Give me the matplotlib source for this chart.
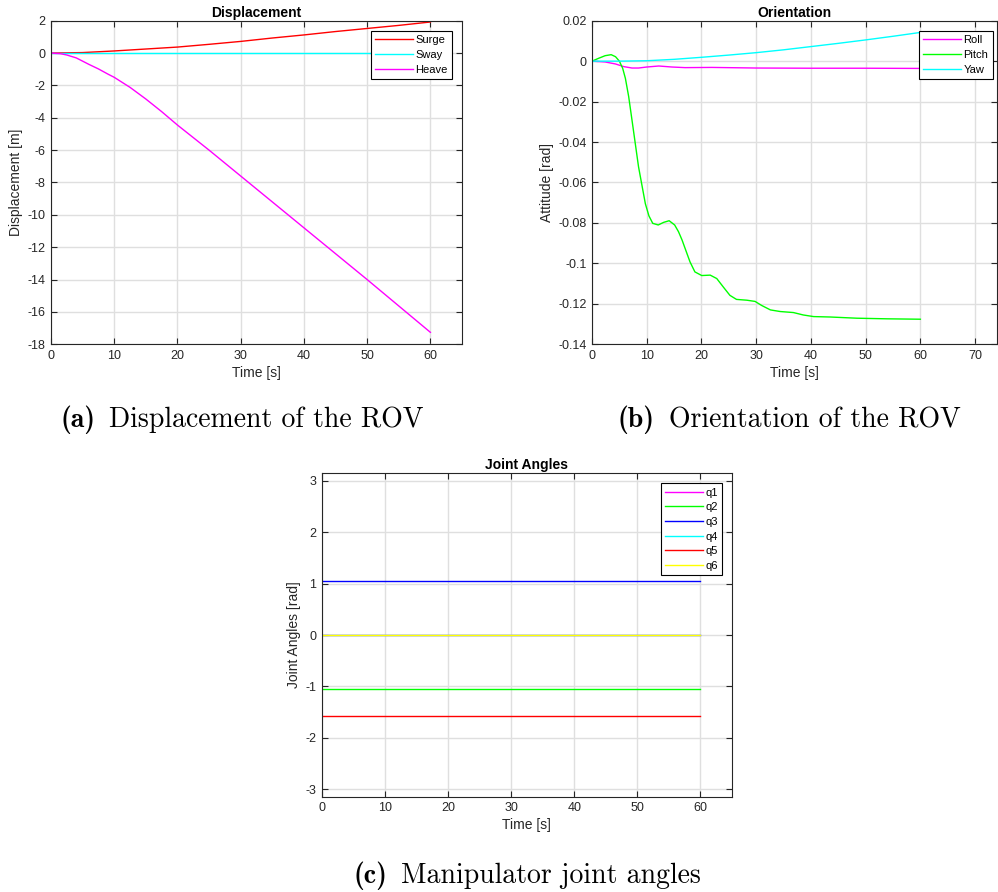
#!/usr/bin/env python3
"""
ROV simulation results: displacement, orientation and manipulator joint angles.
"""

import numpy as np
import matplotlib.pyplot as plt
from matplotlib.ticker import FormatStrFormatter

# --- Displacement of the ROV [m] ---
t_surge = [0, 5, 10, 15, 20, 25, 30, 35, 40, 45, 50, 55, 60]
surge = [0, 0.03, 0.13, 0.25, 0.37, 0.54, 0.72, 0.93, 1.12, 1.33, 1.52, 1.71, 1.92]
t_sway = [0, 60]
sway = [0, 0]
t_heave = [0, 1.5, 2.5, 4, 5, 6, 7.5, 9, 10, 12.5, 15, 17.5, 20, 25, 30, 35,
           40, 45, 50, 55, 60]
heave = [0, -0.04, -0.12, -0.3, -0.5, -0.7, -0.98, -1.3, -1.5, -2.12, -2.84,
         -3.62, -4.45, -6.0, -7.6, -9.2, -10.8, -12.4, -14.0, -15.63, -17.26]

# --- Orientation of the ROV [rad] ---
t_roll = [0, 2.4, 4.3, 5.8, 7.3, 8.5, 10, 12.2, 14.6, 17, 21.9, 30, 40, 50, 60]
roll = [0, -0.0004, -0.0014, -0.0027, -0.0034, -0.0034, -0.0029, -0.0024,
        -0.0029, -0.0032, -0.0031, -0.0034, -0.0035, -0.0035, -0.0036]
t_pitch = [0, 1.2, 2.4, 3.5, 4.3, 5.0, 5.6, 6.1, 6.7, 7.3, 7.9, 8.5, 9.1,
           9.75, 10.4, 11.1, 12.1, 13.1, 14.1, 15.1, 15.8, 16.45, 17.2, 17.9,
           18.8, 20.05, 21.6, 22.8, 24.0, 25.2, 26.4, 28.3, 29.8, 31.0, 32.6,
           34.4, 36.8, 38.6, 40.5, 43.5, 48.4, 53.9, 60]
pitch = [0, 0.0014, 0.0027, 0.0032, 0.0022, 0.0, -0.0035, -0.0085, -0.0175,
         -0.029, -0.0406, -0.0522, -0.061, -0.0705, -0.0765, -0.0802, -0.081,
         -0.0797, -0.0789, -0.081, -0.0843, -0.0884, -0.094, -0.0992, -0.1042,
         -0.106, -0.1058, -0.1075, -0.1117, -0.1158, -0.1178, -0.1182, -0.1188,
         -0.1208, -0.123, -0.1238, -0.1243, -0.1255, -0.1263, -0.1265, -0.1271,
         -0.1274, -0.1276]
t_yaw = [0, 5, 10, 15, 20, 25, 30, 35, 40, 45, 50, 55, 60]
yaw = [0, 0, 0.0002, 0.0009, 0.0019, 0.003, 0.0042, 0.0056, 0.0072, 0.0088,
       0.0105, 0.0123, 0.0142]

# --- Manipulator joint angles [rad] ---
t_joint = [0, 60]
joint_names = ["q1", "q2", "q3", "q4", "q5", "q6"]
joint_values = [0.0, -1.047, 1.047, 0.0, -1.571, 0.0]
joint_colors = ["#ff00ff", "#00ff00", "#0000ff", "#00ffff", "#ff0000", "#ffff00"]

# sub-figure captions
captions = [("(a)", "Displacement of the ROV"),
            ("(b)", "Orientation of the ROV"),
            ("(c)", "Manipulator joint angles")]

plt.rcParams['font.family'] = ['Liberation Sans', 'DejaVu Sans']
plt.rcParams['axes.unicode_minus'] = False

W, H = 998, 892
DARK = "#262626"
GRID = "#dfdfdf"


def px_axes(fig, left, top, right, bottom):
    """Add axes from pixel coordinates (top-left origin)."""
    return fig.add_axes([left / W, 1 - bottom / H, (right - left) / W, (bottom - top) / H])


def style_axes(ax, title, ylabel):
    ax.set_title(title, fontsize=10, fontweight='bold', pad=3)
    ax.set_xlabel("Time [s]", fontsize=10, color=DARK, labelpad=3)
    ax.set_ylabel(ylabel, fontsize=10, color=DARK, labelpad=3)
    ax.grid(True, color=GRID, linewidth=1.0)
    ax.set_axisbelow(True)
    ax.tick_params(direction='in', top=True, right=True, length=4,
                   width=0.8, colors=DARK, labelsize=9, pad=4)
    for s in ax.spines.values():
        s.set_color(DARK)
        s.set_linewidth(0.8)


def add_legend(ax, anchor):
    leg = ax.legend(loc='upper right', bbox_to_anchor=anchor, fontsize=8,
                    frameon=True, fancybox=False, framealpha=1,
                    edgecolor='black', borderaxespad=0, handlelength=3.4,
                    handletextpad=0.25, labelspacing=0.42, borderpad=0.38)
    leg.get_frame().set_linewidth(0.8)
    return leg


def add_caption(fig, xc, yc, bold, rest, size=20, gap=14):
    """Bold label followed by regular text, centred at pixel (xc, yc)."""
    renderer = fig.canvas.get_renderer()
    tb = fig.text(0, 1 - yc / H, bold, family='cmb10', fontsize=size, va='center')
    tr = fig.text(0, 1 - yc / H, rest, family='cmr10', fontsize=size, va='center')
    wb = tb.get_window_extent(renderer).width
    wr = tr.get_window_extent(renderer).width
    x0 = xc - (wb + gap + wr) / 2
    tb.set_x(x0 / W)
    tr.set_x((x0 + wb + gap) / W)


fig = plt.figure(figsize=(W / 100, H / 100), dpi=100)

# (a) Displacement
ax1 = px_axes(fig, 51, 20.7, 462, 344.3)
ax1.plot(t_surge, surge, color="#ff0000", lw=1.0, label="Surge")
ax1.plot(t_sway, sway, color="#00ffff", lw=1.0, label="Sway")
ax1.plot(t_heave, heave, color="#ff00ff", lw=1.0, label="Heave")
ax1.set_xlim(0, 65)
ax1.set_ylim(-18, 2)
ax1.set_xticks(np.arange(0, 61, 10))
ax1.set_yticks(np.arange(-18, 3, 2))
style_axes(ax1, "Displacement", "Displacement [m]")
add_legend(ax1, (0.976, 0.968))

# (b) Orientation
ax2 = px_axes(fig, 592, 20.7, 997, 344.3)
ax2.plot(t_roll, roll, color="#ff00ff", lw=1.0, label="Roll")
ax2.plot(t_pitch, pitch, color="#00ff00", lw=1.0, label="Pitch")
ax2.plot(t_yaw, yaw, color="#00ffff", lw=1.0, label="Yaw")
ax2.set_xlim(0, 74)
ax2.set_ylim(-0.14, 0.02)
ax2.set_xticks(np.arange(0, 71, 10))
ax2.set_yticks(np.linspace(-0.14, 0.02, 9))
ax2.yaxis.set_major_formatter(FormatStrFormatter('%g'))
style_axes(ax2, "Orientation", "Attitude [rad]")
add_legend(ax2, (0.989, 0.968))

# (c) Joint angles
ax3 = px_axes(fig, 321.7, 473.3, 732, 796.7)
for name, val, col in zip(joint_names, joint_values, joint_colors):
    ax3.plot(t_joint, [val, val], color=col, lw=1.0, label=name)
ax3.set_xlim(0, 65)
ax3.set_ylim(-np.pi, np.pi)
ax3.set_xticks(np.arange(0, 61, 10))
ax3.set_yticks(np.arange(-3, 4, 1))
style_axes(ax3, "Joint Angles", "Joint Angles [rad]")
add_legend(ax3, (0.976, 0.969))

caption_pos = [(242, 420), (789, 420), (527, 876)]
for (bold, rest), (xc, yc) in zip(captions, caption_pos):
    add_caption(fig, xc, yc, bold, rest)

fig.savefig("out.png", dpi=100)
